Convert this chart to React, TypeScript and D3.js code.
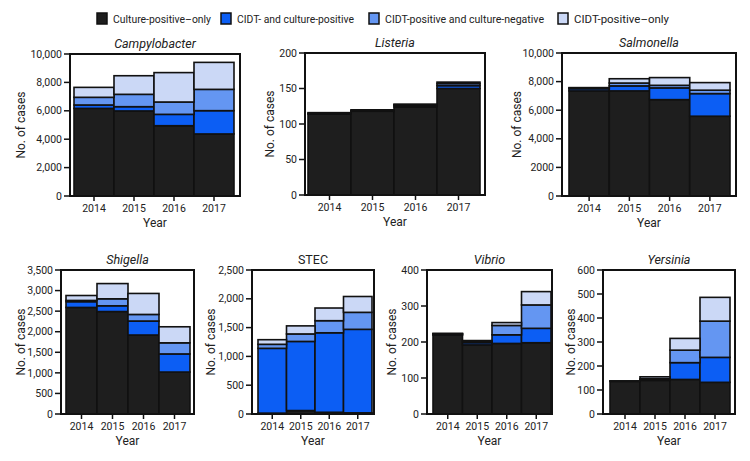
import React from 'react';
import { scaleLinear, scaleBand, stack } from 'd3';

const years = ['2014', '2015', '2016', '2017'];
const seriesNames = [
  'Culture-positive–only',
  'CIDT- and culture-positive',
  'CIDT-positive and culture-negative',
  'CIDT-positive–only',
];
const seriesColors = ['#1e1e1e', '#0c5ef4', '#6496f2', '#cbd8f6'];

// rows: culture-only, CIDT+culture, CIDT+/culture-, CIDT-only ; cols: years
const campylobacterCounts = [
  [6170, 5990, 4950, 4370],
  [240, 300, 800, 1640],
  [540, 870, 870, 1500],
  [700, 1310, 2070, 1900],
];
const listeriaCounts = [
  [114, 118, 124, 150],
  [1, 1, 2, 4],
  [0, 0, 1, 3],
  [1, 1, 1, 2],
];
const salmonellaCounts = [
  [7350, 7350, 6740, 5580],
  [150, 350, 820, 1580],
  [50, 200, 180, 240],
  [30, 300, 540, 530],
];
const shigellaCounts = [
  [2590, 2490, 1920, 1020],
  [140, 140, 340, 440],
  [30, 170, 160, 270],
  [120, 370, 510, 390],
];
const stecCounts = [
  [15, 60, 30, 20],
  [1125, 1200, 1380, 1450],
  [70, 130, 210, 295],
  [80, 140, 220, 275],
];
const vibrioCounts = [
  [219, 192, 196, 198],
  [3, 6, 24, 40],
  [1, 3, 26, 65],
  [1, 3, 8, 37],
];
const yersiniaCounts = [
  [136, 140, 144, 132],
  [1, 2, 70, 104],
  [0, 5, 52, 151],
  [1, 8, 49, 99],
];

const thousandsTicks = [0, 2000, 4000, 6000, 8000, 10000];
const campylobacterTickLabels = ['0', '2,000', '4,000', '6,000', '8,000', '10,000'];
const salmonellaTickLabels = ['0', '2000', '4,000', '6,000', '8,000', '10,000'];
const listeriaTicks = [0, 50, 100, 150, 200];
const shigellaTicks = [0, 500, 1000, 1500, 2000, 2500, 3000, 3500];
const stecTicks = [0, 500, 1000, 1500, 2000, 2500];
const vibrioTicks = [0, 100, 200, 300, 400];
const yersiniaTicks = [0, 100, 200, 300, 400, 500, 600];

const fmt = (v: number) => v.toLocaleString('en-US');

const FONT = 'Roboto, "Open Sans", sans-serif';

type PanelProps = {
  title: string;
  italic: boolean;
  counts: number[][];
  ticks: number[];
  tickLabels?: string[];
  left: number; right: number; top: number; bottom: number;
  barLeft: number; barRight: number;
  labelX: number;
};

function Panel(p: PanelProps) {
  const max = p.ticks[p.ticks.length - 1];
  const y = scaleLinear().domain([0, max]).range([p.bottom, p.top]);
  const x = scaleBand().domain(years).range([p.barLeft, p.barRight]).padding(0);
  const rows = years.map((yr, i) => {
    const r: any = { year: yr };
    seriesNames.forEach((s, k) => { r[s] = p.counts[k][i]; });
    return r;
  });
  const layers = stack<any>().keys(seriesNames)(rows);
  const labels = p.tickLabels || p.ticks.map(fmt);
  const cx = (p.left + p.right) / 2;
  const cy = (p.top + p.bottom) / 2;
  return (
    <g fontFamily={FONT}>
      <text x={cx} y={p.top - 6} textAnchor="middle" fontSize={12.5}
        fontStyle={p.italic ? 'italic' : 'normal'} fill="#222">{p.title}</text>
      {layers.map((layer, k) => (
        <g key={k}>
          {layer.map((d, i) => {
            const h = y(d[0]) - y(d[1]);
            if (h <= 0) return null;
            return (
              <rect key={i} x={x(years[i])} y={y(d[1])} width={x.bandwidth()} height={h}
                fill={seriesColors[k]} stroke="#111" strokeWidth={1.6} />
            );
          })}
        </g>
      ))}
      <rect x={p.left} y={p.top} width={p.right - p.left} height={p.bottom - p.top}
        fill="none" stroke="#111" strokeWidth={2} />
      {p.ticks.map((t, i) => (
        <g key={t}>
          <line x1={p.left - 6} x2={p.left} y1={y(t)} y2={y(t)} stroke="#111" strokeWidth={1.5} />
          <text x={p.left - 8} y={y(t)} dy="0.35em" textAnchor="end" fontSize={10.5} fill="#222">{labels[i]}</text>
        </g>
      ))}
      {years.map((yr) => {
        const xc = (x(yr) as number) + x.bandwidth() / 2;
        return (
          <g key={yr}>
            <line x1={xc} x2={xc} y1={p.bottom} y2={p.bottom + 5} stroke="#111" strokeWidth={1.5} />
            <text x={xc} y={p.bottom + 16} textAnchor="middle" fontSize={10.5} fill="#222">{yr}</text>
          </g>
        );
      })}
      <text x={cx} y={p.bottom + 31} textAnchor="middle" fontSize={12} fill="#222">Year</text>
      <text transform={`translate(${p.labelX},${cy}) rotate(-90)`} textAnchor="middle" dy="0.35em"
        fontSize={12} fill="#222">No. of cases</text>
    </g>
  );
}

const legendX = [97, 221, 369, 558];
const legendTextWidth = [98, 117, 159, 95];

export default function App() {
  return (
    <svg width={750} height={461} style={{ position: 'absolute', left: 0, top: 0, background: '#fff' }}>
      <g fontFamily={FONT}>
        {seriesNames.map((s, k) => (
          <g key={s} transform={`translate(${legendX[k]},13)`}>
            <rect x={0} y={0} width={10} height={11} fill={seriesColors[k]} stroke="#111" strokeWidth={1.5} />
            <text x={16} y={5.5} dy="0.35em" fontSize={11.5} fill="#222"
              textLength={legendTextWidth[k]} lengthAdjust="spacingAndGlyphs">{s}</text>
          </g>
        ))}
      </g>
      <Panel title="Campylobacter" italic counts={campylobacterCounts} ticks={thousandsTicks}
        tickLabels={campylobacterTickLabels}
        left={70} right={240} top={54} bottom={196} barLeft={74} barRight={234} labelX={21} />
      <Panel title="Listeria" italic counts={listeriaCounts} ticks={listeriaTicks}
        left={305} right={485} top={53} bottom={195} barLeft={308} barRight={480} labelX={270} />
      <Panel title="Salmonella" italic counts={salmonellaCounts} ticks={thousandsTicks}
        tickLabels={salmonellaTickLabels}
        left={562} right={736} top={53} bottom={196} barLeft={569} barRight={730} labelX={517} />
      <Panel title="Shigella" italic counts={shigellaCounts} ticks={shigellaTicks}
        left={61} right={194} top={270} bottom={414} barLeft={66} barRight={190} labelX={21} />
      <Panel title="STEC" italic={false} counts={stecCounts} ticks={stecTicks}
        left={252} right={374} top={270} bottom={414} barLeft={258} barRight={372} labelX={211} />
      <Panel title="Vibrio" italic counts={vibrioCounts} ticks={vibrioTicks}
        left={427} right={552} top={270} bottom={414} barLeft={433} barRight={551} labelX={392} />
      <Panel title="Yersinia" italic counts={yersiniaCounts} ticks={yersiniaTicks}
        left={603} right={735} top={270} bottom={414} barLeft={610} barRight={730} labelX={571} />
    </svg>
  );
}
